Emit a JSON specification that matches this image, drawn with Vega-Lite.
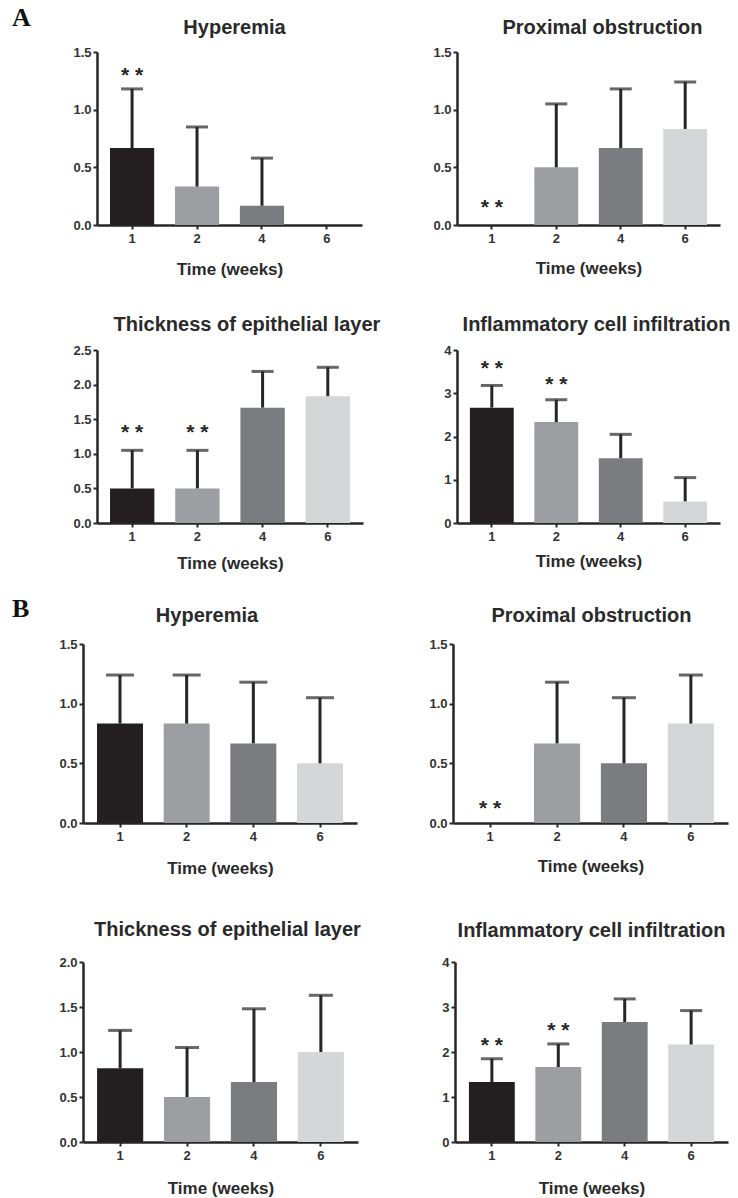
{
  "$schema": "https://vega.github.io/schema/vega-lite/v6.json",
  "background": "white",
  "padding": {"left": 12, "top": 5, "right": 5, "bottom": 2},
  "datasets": {
    "d": [
      {"p": "A1", "w": "1", "m": 0.667, "e": 1.18, "s": 1.32},
      {"p": "A1", "w": "2", "m": 0.333, "e": 0.85, "s": null},
      {"p": "A1", "w": "4", "m": 0.167, "e": 0.58, "s": null},
      {"p": "A1", "w": "6", "m": 0, "e": null, "s": null},
      {"p": "A2", "w": "1", "m": 0, "e": null, "s": 0.17},
      {"p": "A2", "w": "2", "m": 0.5, "e": 1.05, "s": null},
      {"p": "A2", "w": "4", "m": 0.667, "e": 1.18, "s": null},
      {"p": "A2", "w": "6", "m": 0.833, "e": 1.24, "s": null},
      {"p": "A3", "w": "1", "m": 0.5, "e": 1.05, "s": 1.35},
      {"p": "A3", "w": "2", "m": 0.5, "e": 1.05, "s": 1.35},
      {"p": "A3", "w": "4", "m": 1.667, "e": 2.19, "s": null},
      {"p": "A3", "w": "6", "m": 1.833, "e": 2.25, "s": null},
      {"p": "A4", "w": "1", "m": 2.667, "e": 3.18, "s": 3.63},
      {"p": "A4", "w": "2", "m": 2.333, "e": 2.85, "s": 3.25},
      {"p": "A4", "w": "4", "m": 1.5, "e": 2.05, "s": null},
      {"p": "A4", "w": "6", "m": 0.5, "e": 1.05, "s": null},
      {"p": "B1", "w": "1", "m": 0.833, "e": 1.24, "s": null},
      {"p": "B1", "w": "2", "m": 0.833, "e": 1.24, "s": null},
      {"p": "B1", "w": "4", "m": 0.667, "e": 1.18, "s": null},
      {"p": "B1", "w": "6", "m": 0.5, "e": 1.05, "s": null},
      {"p": "B2", "w": "1", "m": 0, "e": null, "s": 0.14},
      {"p": "B2", "w": "2", "m": 0.667, "e": 1.18, "s": null},
      {"p": "B2", "w": "4", "m": 0.5, "e": 1.05, "s": null},
      {"p": "B2", "w": "6", "m": 0.833, "e": 1.24, "s": null},
      {"p": "B3", "w": "1", "m": 0.82, "e": 1.24, "s": null},
      {"p": "B3", "w": "2", "m": 0.5, "e": 1.05, "s": null},
      {"p": "B3", "w": "4", "m": 0.667, "e": 1.48, "s": null},
      {"p": "B3", "w": "6", "m": 1.0, "e": 1.63, "s": null},
      {"p": "B4", "w": "1", "m": 1.333, "e": 1.85, "s": 2.2},
      {"p": "B4", "w": "2", "m": 1.667, "e": 2.18, "s": 2.53},
      {"p": "B4", "w": "4", "m": 2.667, "e": 3.18, "s": null},
      {"p": "B4", "w": "6", "m": 2.167, "e": 2.92, "s": null}
    ]
  },
  "spacing": 25,
  "vconcat": [
    {
      "title": {"text": "A", "anchor": "start", "frame": "group", "font": "Liberation Serif", "fontSize": 26, "fontWeight": "bold", "color": "#111111", "offset": -13, "dx": -61},
      "bounds": "flush",
      "spacing": 0,
      "hconcat": [
        {"width": 24, "height": 1, "data": {"values": [{"k": 0}]}, "mark": {"type": "point", "opacity": 0, "size": 1}, "encoding": {}},
        {
          "spacing": 38,
          "vconcat": [
            {
              "bounds": "flush",
              "spacing": 95,
              "hconcat": [
                {
                  "data": {"name": "d"},
                  "transform": [{"filter": "datum.p === 'A1'"}],
                  "width": 265, "height": 173,
                  "title": {"text": "Hyperemia", "dx": 5, "offset": 8},
                  "encoding": {"x": {"field": "w", "type": "nominal", "sort": ["1", "2", "4", "6"], "scale": {"paddingInner": 0.32, "paddingOuter": 0.2}, "axis": {"title": "Time (weeks)", "titlePadding": 16}}},
                  "layer": [
                    {"mark": "bar", "encoding": {"y": {"field": "m", "type": "quantitative", "title": null, "scale": {"domain": [0, 1.5]}, "axis": {"values": [0, 0.5, 1, 1.5], "tickCount": 10, "format": ".1f", "minExtent": 38}}, "color": {"field": "w", "type": "nominal", "scale": {"domain": ["1", "2", "4", "6"], "range": ["#231f20", "#9d9ea1", "#7b7c7f", "#d5d6d8"]}, "legend": null}}},
                    {"transform": [{"filter": "datum.e != null"}], "mark": {"type": "rule", "strokeWidth": 3, "color": "#262626"}, "encoding": {"y": {"field": "m", "type": "quantitative", "title": null, "scale": {"domain": [0, 1.5]}}, "y2": {"field": "e"}}},
                    {"transform": [{"filter": "datum.e != null"}], "mark": {"type": "tick", "size": 22, "thickness": 3, "color": "#262626"}, "encoding": {"y": {"field": "e", "type": "quantitative", "title": null, "scale": {"domain": [0, 1.5]}}}},
                    {"transform": [{"filter": "datum.s != null"}], "mark": {"type": "text", "text": "* *", "font": "Liberation Sans", "fontSize": 21, "fontWeight": "bold", "color": "#262626", "baseline": "alphabetic", "dy": 9}, "encoding": {"y": {"field": "s", "type": "quantitative", "title": null, "scale": {"domain": [0, 1.5]}}}}
                  ]
                },
                {
                  "data": {"name": "d"},
                  "transform": [{"filter": "datum.p === 'A2'"}],
                  "width": 263, "height": 173,
                  "title": {"text": "Proximal obstruction", "dx": 14, "offset": 8},
                  "encoding": {"x": {"field": "w", "type": "nominal", "sort": ["1", "2", "4", "6"], "scale": {"paddingInner": 0.32, "paddingOuter": 0.2}, "axis": {"title": "Time (weeks)", "titlePadding": 15}}},
                  "layer": [
                    {"mark": "bar", "encoding": {"y": {"field": "m", "type": "quantitative", "title": null, "scale": {"domain": [0, 1.5]}, "axis": {"values": [0, 0.5, 1, 1.5], "tickCount": 10, "format": ".1f"}}, "color": {"field": "w", "type": "nominal", "scale": {"domain": ["1", "2", "4", "6"], "range": ["#231f20", "#9d9ea1", "#7b7c7f", "#d5d6d8"]}, "legend": null}}},
                    {"transform": [{"filter": "datum.e != null"}], "mark": {"type": "rule", "strokeWidth": 3, "color": "#262626"}, "encoding": {"y": {"field": "m", "type": "quantitative", "title": null, "scale": {"domain": [0, 1.5]}}, "y2": {"field": "e"}}},
                    {"transform": [{"filter": "datum.e != null"}], "mark": {"type": "tick", "size": 22, "thickness": 3, "color": "#262626"}, "encoding": {"y": {"field": "e", "type": "quantitative", "title": null, "scale": {"domain": [0, 1.5]}}}},
                    {"transform": [{"filter": "datum.s != null"}], "mark": {"type": "text", "text": "* *", "font": "Liberation Sans", "fontSize": 21, "fontWeight": "bold", "color": "#262626", "baseline": "alphabetic", "dy": 9}, "encoding": {"y": {"field": "s", "type": "quantitative", "title": null, "scale": {"domain": [0, 1.5]}}}}
                  ]
                }
              ]
            },
            {
              "bounds": "flush",
              "spacing": 94,
              "hconcat": [
                {
                  "data": {"name": "d"},
                  "transform": [{"filter": "datum.p === 'A3'"}],
                  "width": 266, "height": 173,
                  "title": {"text": "Thickness of epithelial layer", "dx": 17, "offset": 9},
                  "encoding": {"x": {"field": "w", "type": "nominal", "sort": ["1", "2", "4", "6"], "scale": {"paddingInner": 0.32, "paddingOuter": 0.2}, "axis": {"title": "Time (weeks)", "titlePadding": 12}}},
                  "layer": [
                    {"mark": "bar", "encoding": {"y": {"field": "m", "type": "quantitative", "title": null, "scale": {"domain": [0, 2.5]}, "axis": {"values": [0, 0.5, 1, 1.5, 2, 2.5], "tickCount": 10, "format": ".1f", "minExtent": 38}}, "color": {"field": "w", "type": "nominal", "scale": {"domain": ["1", "2", "4", "6"], "range": ["#231f20", "#9d9ea1", "#7b7c7f", "#d5d6d8"]}, "legend": null}}},
                    {"transform": [{"filter": "datum.e != null"}], "mark": {"type": "rule", "strokeWidth": 3, "color": "#262626"}, "encoding": {"y": {"field": "m", "type": "quantitative", "title": null, "scale": {"domain": [0, 2.5]}}, "y2": {"field": "e"}}},
                    {"transform": [{"filter": "datum.e != null"}], "mark": {"type": "tick", "size": 22, "thickness": 3, "color": "#262626"}, "encoding": {"y": {"field": "e", "type": "quantitative", "title": null, "scale": {"domain": [0, 2.5]}}}},
                    {"transform": [{"filter": "datum.s != null"}], "mark": {"type": "text", "text": "* *", "font": "Liberation Sans", "fontSize": 21, "fontWeight": "bold", "color": "#262626", "baseline": "alphabetic", "dy": 9}, "encoding": {"y": {"field": "s", "type": "quantitative", "title": null, "scale": {"domain": [0, 2.5]}}}}
                  ]
                },
                {
                  "data": {"name": "d"},
                  "transform": [{"filter": "datum.p === 'A4'"}],
                  "width": 263, "height": 173,
                  "title": {"text": "Inflammatory cell infiltration", "dx": 8, "offset": 9},
                  "encoding": {"x": {"field": "w", "type": "nominal", "sort": ["1", "2", "4", "6"], "scale": {"paddingInner": 0.32, "paddingOuter": 0.2}, "axis": {"title": "Time (weeks)", "titlePadding": 10}}},
                  "layer": [
                    {"mark": "bar", "encoding": {"y": {"field": "m", "type": "quantitative", "title": null, "scale": {"domain": [0, 4]}, "axis": {"values": [0, 1, 2, 3, 4], "tickCount": 10, "format": "d"}}, "color": {"field": "w", "type": "nominal", "scale": {"domain": ["1", "2", "4", "6"], "range": ["#231f20", "#9d9ea1", "#7b7c7f", "#d5d6d8"]}, "legend": null}}},
                    {"transform": [{"filter": "datum.e != null"}], "mark": {"type": "rule", "strokeWidth": 3, "color": "#262626"}, "encoding": {"y": {"field": "m", "type": "quantitative", "title": null, "scale": {"domain": [0, 4]}}, "y2": {"field": "e"}}},
                    {"transform": [{"filter": "datum.e != null"}], "mark": {"type": "tick", "size": 22, "thickness": 3, "color": "#262626"}, "encoding": {"y": {"field": "e", "type": "quantitative", "title": null, "scale": {"domain": [0, 4]}}}},
                    {"transform": [{"filter": "datum.s != null"}], "mark": {"type": "text", "text": "* *", "font": "Liberation Sans", "fontSize": 21, "fontWeight": "bold", "color": "#262626", "baseline": "alphabetic", "dy": 9}, "encoding": {"y": {"field": "s", "type": "quantitative", "title": null, "scale": {"domain": [0, 4]}}}}
                  ]
                }
              ]
            }
          ]
        }
      ]
    },
    {
      "title": {"text": "B", "anchor": "start", "frame": "group", "font": "Liberation Serif", "fontSize": 26, "fontWeight": "bold", "color": "#111111", "offset": -16, "dx": -61},
      "bounds": "flush",
      "spacing": 0,
      "hconcat": [
        {"width": 10, "height": 1, "data": {"values": [{"k": 0}]}, "mark": {"type": "point", "opacity": 0, "size": 1}, "encoding": {}},
        {
          "spacing": 44,
          "vconcat": [
            {
              "bounds": "flush",
              "spacing": 96,
              "hconcat": [
                {
                  "data": {"name": "d"},
                  "transform": [{"filter": "datum.p === 'B1'"}],
                  "width": 274, "height": 179,
                  "title": {"text": "Hyperemia", "dx": -13, "offset": 12},
                  "encoding": {"x": {"field": "w", "type": "nominal", "sort": ["1", "2", "4", "6"], "scale": {"paddingInner": 0.31, "paddingOuter": 0.21}, "axis": {"title": "Time (weeks)", "titlePadding": 17}}},
                  "layer": [
                    {"mark": "bar", "encoding": {"y": {"field": "m", "type": "quantitative", "title": null, "scale": {"domain": [0, 1.5]}, "axis": {"values": [0, 0.5, 1, 1.5], "tickCount": 10, "format": ".1f", "minExtent": 38}}, "color": {"field": "w", "type": "nominal", "scale": {"domain": ["1", "2", "4", "6"], "range": ["#231f20", "#a0a1a4", "#808184", "#dcdddf"]}, "legend": null}}},
                    {"transform": [{"filter": "datum.e != null"}], "mark": {"type": "rule", "strokeWidth": 3, "color": "#262626"}, "encoding": {"y": {"field": "m", "type": "quantitative", "title": null, "scale": {"domain": [0, 1.5]}}, "y2": {"field": "e"}}},
                    {"transform": [{"filter": "datum.e != null"}], "mark": {"type": "tick", "size": 28, "thickness": 3, "color": "#262626"}, "encoding": {"y": {"field": "e", "type": "quantitative", "title": null, "scale": {"domain": [0, 1.5]}}}}
                  ]
                },
                {
                  "data": {"name": "d"},
                  "transform": [{"filter": "datum.p === 'B2'"}],
                  "width": 275, "height": 179,
                  "title": {"text": "Proximal obstruction", "dx": 1, "offset": 12},
                  "encoding": {"x": {"field": "w", "type": "nominal", "sort": ["1", "2", "4", "6"], "scale": {"paddingInner": 0.31, "paddingOuter": 0.21}, "axis": {"title": "Time (weeks)", "titlePadding": 15}}},
                  "layer": [
                    {"mark": "bar", "encoding": {"y": {"field": "m", "type": "quantitative", "title": null, "scale": {"domain": [0, 1.5]}, "axis": {"values": [0, 0.5, 1, 1.5], "tickCount": 10, "format": ".1f"}}, "color": {"field": "w", "type": "nominal", "scale": {"domain": ["1", "2", "4", "6"], "range": ["#231f20", "#a0a1a4", "#808184", "#dcdddf"]}, "legend": null}}},
                    {"transform": [{"filter": "datum.e != null"}], "mark": {"type": "rule", "strokeWidth": 3, "color": "#262626"}, "encoding": {"y": {"field": "m", "type": "quantitative", "title": null, "scale": {"domain": [0, 1.5]}}, "y2": {"field": "e"}}},
                    {"transform": [{"filter": "datum.e != null"}], "mark": {"type": "tick", "size": 24, "thickness": 3, "color": "#262626"}, "encoding": {"y": {"field": "e", "type": "quantitative", "title": null, "scale": {"domain": [0, 1.5]}}}},
                    {"transform": [{"filter": "datum.s != null"}], "mark": {"type": "text", "text": "* *", "font": "Liberation Sans", "fontSize": 21, "fontWeight": "bold", "color": "#262626", "baseline": "alphabetic", "dy": 9}, "encoding": {"y": {"field": "s", "type": "quantitative", "title": null, "scale": {"domain": [0, 1.5]}}}}
                  ]
                }
              ]
            },
            {
              "bounds": "flush",
              "spacing": 97,
              "hconcat": [
                {
                  "data": {"name": "d"},
                  "transform": [{"filter": "datum.p === 'B3'"}],
                  "width": 275, "height": 180,
                  "title": {"text": "Thickness of epithelial layer", "dx": 7, "offset": 16},
                  "encoding": {"x": {"field": "w", "type": "nominal", "sort": ["1", "2", "4", "6"], "scale": {"paddingInner": 0.31, "paddingOuter": 0.21}, "axis": {"title": "Time (weeks)", "titlePadding": 18}}},
                  "layer": [
                    {"mark": "bar", "encoding": {"y": {"field": "m", "type": "quantitative", "title": null, "scale": {"domain": [0, 2]}, "axis": {"values": [0, 0.5, 1, 1.5, 2], "tickCount": 10, "format": ".1f", "minExtent": 38}}, "color": {"field": "w", "type": "nominal", "scale": {"domain": ["1", "2", "4", "6"], "range": ["#231f20", "#a0a1a4", "#808184", "#dcdddf"]}, "legend": null}}},
                    {"transform": [{"filter": "datum.e != null"}], "mark": {"type": "rule", "strokeWidth": 3, "color": "#262626"}, "encoding": {"y": {"field": "m", "type": "quantitative", "title": null, "scale": {"domain": [0, 2]}}, "y2": {"field": "e"}}},
                    {"transform": [{"filter": "datum.e != null"}], "mark": {"type": "tick", "size": 24, "thickness": 3, "color": "#262626"}, "encoding": {"y": {"field": "e", "type": "quantitative", "title": null, "scale": {"domain": [0, 2]}}}}
                  ]
                },
                {
                  "data": {"name": "d"},
                  "transform": [{"filter": "datum.p === 'B4'"}],
                  "width": 273, "height": 180,
                  "title": {"text": "Inflammatory cell infiltration", "dx": 0, "offset": 15},
                  "encoding": {"x": {"field": "w", "type": "nominal", "sort": ["1", "2", "4", "6"], "scale": {"paddingInner": 0.31, "paddingOuter": 0.21}, "axis": {"title": "Time (weeks)", "titlePadding": 18}}},
                  "layer": [
                    {"mark": "bar", "encoding": {"y": {"field": "m", "type": "quantitative", "title": null, "scale": {"domain": [0, 4]}, "axis": {"values": [0, 1, 2, 3, 4], "tickCount": 10, "format": "d"}}, "color": {"field": "w", "type": "nominal", "scale": {"domain": ["1", "2", "4", "6"], "range": ["#231f20", "#a0a1a4", "#808184", "#dcdddf"]}, "legend": null}}},
                    {"transform": [{"filter": "datum.e != null"}], "mark": {"type": "rule", "strokeWidth": 3, "color": "#262626"}, "encoding": {"y": {"field": "m", "type": "quantitative", "title": null, "scale": {"domain": [0, 4]}}, "y2": {"field": "e"}}},
                    {"transform": [{"filter": "datum.e != null"}], "mark": {"type": "tick", "size": 22, "thickness": 3, "color": "#262626"}, "encoding": {"y": {"field": "e", "type": "quantitative", "title": null, "scale": {"domain": [0, 4]}}}},
                    {"transform": [{"filter": "datum.s != null"}], "mark": {"type": "text", "text": "* *", "font": "Liberation Sans", "fontSize": 21, "fontWeight": "bold", "color": "#262626", "baseline": "alphabetic", "dy": 9}, "encoding": {"y": {"field": "s", "type": "quantitative", "title": null, "scale": {"domain": [0, 4]}}}}
                  ]
                }
              ]
            }
          ]
        }
      ]
    }
  ],
  "config": {
    "view": {"stroke": null},
    "font": "Liberation Sans",
    "axis": {
      "grid": false,
      "labelOverlap": false,
      "domainColor": "#262626", "domainWidth": 2.5,
      "tickColor": "#262626", "tickWidth": 2, "tickSize": 4,
      "labelFont": "Liberation Sans", "labelFontWeight": "bold", "labelFontSize": 13, "labelColor": "#333333", "labelPadding": 2,
      "titleFont": "Liberation Sans", "titleFontWeight": "bold", "titleFontSize": 17, "titleColor": "#2a2a2a"
    },
    "axisX": {"labelAngle": 0, "labelPadding": 3},
    "title": {"font": "Liberation Sans", "fontSize": 20, "fontWeight": "bold", "color": "#2a2a2a", "anchor": "middle", "frame": "group"}
  }
}
